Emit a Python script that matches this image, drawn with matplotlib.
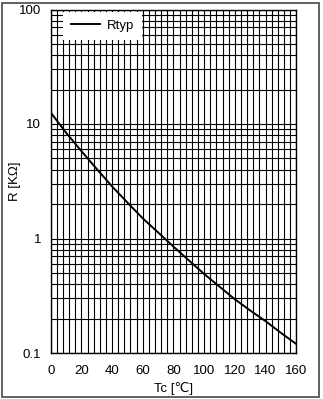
import matplotlib
matplotlib.use("Agg")
import matplotlib.pyplot as plt
from matplotlib.ticker import MultipleLocator, LogLocator, FixedFormatter, FixedLocator
from matplotlib.patches import Rectangle

temps = [0, 10, 20, 30, 40, 50, 60, 70, 80, 90, 100, 110, 120, 130, 140, 150, 160]
r_typ = [12.6, 8.4, 5.8, 4.05, 2.85, 2.06, 1.50, 1.13, 0.85, 0.645, 0.49, 0.38, 0.295, 0.235, 0.19, 0.15, 0.12]
x_ticks = [0, 20, 40, 60, 80, 100, 120, 140, 160]
y_ticks = [0.1, 1, 10, 100]
y_tick_labels = ["0.1", "1", "10", "100"]
series_label = "Rtyp"
x_label = "Tc [\u2103]"
y_label = "R [K\u03a9]"

plt.rcParams['font.family'] = ['Liberation Sans', 'DejaVu Sans']

fig = plt.figure(figsize=(3.23, 3.99), dpi=100)
ax = fig.add_axes([50.7/323, 1-353/399, 245.5/323, 343.5/399])

ax.plot(temps, r_typ, color='black', lw=1.4, label=series_label, zorder=3)
ax.set_yscale('log')
ax.set_xlim(0, 160)
ax.set_ylim(0.1, 100)

ax.xaxis.set_major_locator(FixedLocator(x_ticks))
ax.xaxis.set_minor_locator(MultipleLocator(4))
ax.yaxis.set_major_locator(FixedLocator(y_ticks))
ax.yaxis.set_major_formatter(FixedFormatter(y_tick_labels))
ax.yaxis.set_minor_locator(LogLocator(base=10, subs=range(2, 10)))
ax.yaxis.set_minor_formatter(plt.NullFormatter())

ax.grid(True, which='both', color='black', lw=0.8)
ax.tick_params(which='both', length=0, labelsize=9.5)
ax.tick_params(axis='y', pad=7)
ax.tick_params(axis='x', pad=9)
for s in ax.spines.values():
    s.set_color('black')
    s.set_linewidth(1.0)

ax.set_xlabel(x_label, fontsize=9.5, labelpad=3)
ax.set_ylabel(y_label, fontsize=9.5)
ax.yaxis.set_label_coords(-0.12, 0.5)

leg = ax.legend(loc='upper left', bbox_to_anchor=(0.05, 0.994), borderaxespad=0,
                frameon=True, fancybox=False, edgecolor='white', framealpha=1,
                fontsize=9.5, handlelength=2.2, handletextpad=0.5,
                borderpad=0.6)
leg.get_frame().set_linewidth(0)

fig.patches.append(Rectangle((1.5/323, 2/399), 317/323, 394.5/399, transform=fig.transFigure,
                             fill=False, edgecolor='#555555', lw=1.3))

fig.savefig("out.png", dpi=100)
